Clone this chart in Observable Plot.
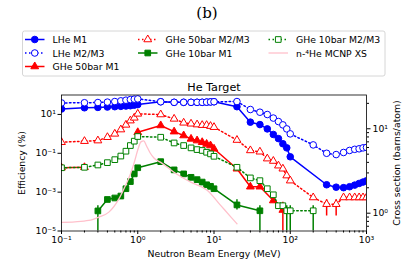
<!DOCTYPE html>
<html><head><meta charset="utf-8">
<script src="https://cdn.jsdelivr.net/npm/d3@7"></script>
<script src="https://cdn.jsdelivr.net/npm/@observablehq/plot@0.6"></script>
<style>
body{margin:0;background:#fff;}
#wrap{width:407px;height:271px;overflow:hidden;}
#wrap svg{display:block;}
</style>
</head><body><div id="wrap"></div>
<script>
// ---- Energies (MeV) ----
const E_low = [0.1,0.2,0.3,0.4,0.5,0.6,0.7,0.8,0.9,1];
const E_mid = [2,3,4,5,6,7,8,9,10];
const E_hi  = [20,30,40,50,60,70,80,90,100];
const E_top = [200,300,400,500,600,700,800,900,1000];

// ---- LHe M1 ----
const lheM1_E = [...E_low, ...E_mid, ...E_hi, 300,400,500,600,700,800,900,1000];
const lheM1_V = [19,22,23,24,25,26,27,28,30,32,
                 45,42,42,42,42,42,43,44,45,
                 25,4.0,3.0,1.8,0.93,0.57,0.31,0.19,0.066,
                 0.0024,0.0018,0.0017,0.0019,0.0023,0.0028,0.0033,0.0038];
// ---- LHe M2/M3 ----
const lheM2_E = [...E_low, ...E_mid, ...E_hi, ...E_top];
const lheM2_V = [39,40,41,43,46,50,54,58,61,63,
                 45,42,42,42,42,42,43,44,45,
                 46,17.9,13,9.9,6.5,4.3,2.9,1.8,1.0,
                 0.27,0.10,0.086,0.11,0.14,0.16,0.17,0.19,0.20];
// ---- GHe 50bar M1 ----
const g50M1_E = [0.1,0.2,0.3,1,2,3,4,5,6,7,8,9,10,20,30,40,60,80];
const g50M1_V = [0.018,0.019,null,1.2,2.7,1.3,0.82,0.55,0.45,0.37,0.30,0.25,0.17,0.016,0.0019,0.0019,0.00037,0.00012];
// ---- GHe 50bar M2/M3 ----
const g50M2_E = [...E_low, ...E_mid, ...E_hi, ...E_top];
const g50M2_V = [0.37,0.42,0.45,0.67,1.0,1.66,2.9,4.8,6.7,10.7,
                 9.9,5.9,3.7,3.3,3.0,2.8,2.8,2.5,2.2,
                 0.48,0.14,0.12,0.053,0.040,0.023,0.016,0.0071,0.0039,
                 0.00053,0.00024,0.00024,0.00053,0.00053,0.00053,0.00053,0.00053,0.00053];
// ---- GHe 10bar M1 ----
const g10M1_E = [0.3,0.4,0.5,0.6,0.7,0.8,0.9,1,2,3,4,5,6,7,8,9,10,20,40];
const g10M1_V = [0.000108,0.00042,0.0005,0.00063,0.0015,0.0035,0.0087,0.018,
                 0.037,0.014,0.0087,0.0058,0.0044,0.0033,0.0024,0.0020,0.0015,
                 0.00022,0.00011];
// ---- GHe 10bar M2/M3 ----
const g10M2_E = [...E_low, ...E_mid, ...E_hi, 200];
const g10M2_V = [0.018,0.019,0.025,0.033,0.047,0.072,0.128,0.25,0.42,0.73,
                 0.67,0.34,0.25,0.19,0.155,0.14,0.113,0.093,0.07,
                 0.019,0.0054,0.0039,0.0015,0.00073,0.0002,0.0002,0.00011,0.00011,
                 0.00011];
// ---- error bars: [energy, low, high] ----
const g10M1_err = [[0.3,1e-5,0.0002],[20,0.00012,0.0004],[40,1e-5,0.0002]];
const g10M2_err = [[90,1e-5,0.0002],[100,1e-5,0.0002],[200,1e-5,0.0002]];
const g50M2_err = [[300,0.00006,0.0004],[400,0.00006,0.0004]];
const g50M1_err = [[80,1e-5,0.0003]];
// ---- n-4He MCNP cross section (barns/atom), right axis ----
const xs_E = [0.1,0.15,0.228,0.309,0.418,0.566,0.69,0.8,0.9,1.0,1.1,1.2,1.3,1.45,1.63,2,2.98,4.96,8.2,12.3,16.7,20];
const xs_V = [0.78,0.79,0.82,0.9,1.03,1.48,2.13,2.9,4.0,5.6,7.0,7.2,6.3,5.2,4.5,4.0,3.06,2.33,1.86,1.23,0.9,0.75];

// ---- tick labels ----
const xTicks = [0.1,1,10,100,1000];
const yTicks = [1e-5,1e-3,1e-1,10];
const rTicks = [1,10];
const rMinor = [0.7,0.8,0.9,2,3,4,5,6,7,8,9,20];

const supMap = {"0":"⁰","1":"¹","2":"²","3":"³","4":"⁴","5":"⁵","6":"⁶","7":"⁷","8":"⁸","9":"⁹","-":"⁻"};
const fmt = v => "10" + String(Math.round(Math.log10(v))).split("").map(c => supMap[c]).join("");

// right-axis mapping onto left log scale
const R0 = -0.2109, R1 = 1.400;
const toLeft = xs => Math.pow(10, -5 + 7 * (Math.log10(xs) - R0) / (R1 - R0));

const rows = (E, V) => E.map((e, i) => ({E: e, v: V[i]}));
const errRows = arr => arr.map(([e, lo, hi]) => ({E: e, lo, hi}));

const BLUE = "#0000ff", RED = "#ff0000", GREEN = "#008000", PINK = "#ffc0cb";
const DOT = "1.5,2.5";
const xMinor = [];
for (let d = -1; d < 3; d++) for (let k = 2; k <= 9; k++) xMinor.push(k * Math.pow(10, d));

function series(E, V, color, dashed, symbol, filled, r, err) {
  const data = rows(E, V);
  const out = [
    Plot.line(data, {x: "E", y: "v", stroke: color, strokeWidth: 1.5, strokeDasharray: dashed ? DOT : null, clip: true})
  ];
  if (err) out.push(Plot.ruleX(errRows(err), {x: "E", y1: "lo", y2: "hi", stroke: color, strokeWidth: 1.5, clip: true}));
  out.push(Plot.dot(data.filter(d => d.v != null), {x: "E", y: "v", symbol, r, fill: filled ? color : "white", stroke: color, strokeWidth: 1, clip: true}));
  return out;
}

const chart = Plot.plot({
  width: 407, height: 191,
  marginLeft: 61, marginRight: 41, marginTop: 14.5, marginBottom: 40.5,
  style: {fontFamily: "DejaVu Sans, sans-serif", fontSize: "9.3px", background: "white", color: "black"},
  x: {type: "log", domain: [0.1, 1000]},
  y: {type: "log", domain: [1e-5, 100]},
  marks: [
    ...series(lheM1_E, lheM1_V, BLUE, false, "circle", true, 3.3),
    ...series(lheM2_E, lheM2_V, BLUE, true, "circle", false, 3.3),
    ...series(g50M1_E, g50M1_V, RED, false, "triangle", true, 2.9, g50M1_err),
    ...series(g50M2_E, g50M2_V, RED, true, "triangle", false, 2.9, g50M2_err),
    ...series(g10M1_E, g10M1_V, GREEN, false, "square", true, 3.2, g10M1_err),
    ...series(g10M2_E, g10M2_V, GREEN, true, "square", false, 3.2, g10M2_err),
    Plot.line(rows(xs_E, xs_V.map(toLeft)), {x: "E", y: "v", stroke: PINK, strokeWidth: 1.3, curve: "monotone-x", clip: true}),
    Plot.frame({stroke: "black", strokeWidth: 0.8}),
    Plot.axisX({ticks: xTicks, tickFormat: fmt, tickSize: 3.5, tickPadding: 2, label: null}),
    Plot.axisX({ticks: xMinor, tickFormat: () => "", tickSize: 2, label: null}),
    Plot.axisY({ticks: yTicks, tickFormat: fmt, tickSize: 3.5, tickPadding: 2, label: null}),
    Plot.axisY({anchor: "right", ticks: rTicks.map(toLeft), tickFormat: () => "", tickSize: 3.5, label: null}),
    Plot.axisY({anchor: "right", ticks: rMinor.map(toLeft), tickFormat: () => "", tickSize: 2, label: null}),
    Plot.text(rTicks, {frameAnchor: "right", y: d => toLeft(d), text: d => fmt(d), dx: 6, textAnchor: "start", lineAnchor: "middle", fontSize: 9.3, fill: "black"}),
    Plot.text(["Neutron Beam Energy (MeV)"], {frameAnchor: "bottom", dy: 23.5, lineAnchor: "middle", textAnchor: "middle", fontSize: 9.3}),
    Plot.text(["Efficiency (%)"], {frameAnchor: "left", dx: -39, rotate: -90, lineAnchor: "middle", textAnchor: "middle", fontSize: 9.3}),
    Plot.text(["Cross section (barns/atom)"], {frameAnchor: "right", dx: 31, rotate: -90, lineAnchor: "middle", textAnchor: "middle", fontSize: 9.3}),
    Plot.text(["He Target"], {frameAnchor: "top", dy: -7.5, lineAnchor: "middle", textAnchor: "middle", fontSize: 11.2})
  ]
});

// ---- header: panel label + legend ----
const legendItems = [
  {label: "LHe M1", color: BLUE, dashed: false, sym: d3.symbolCircle, filled: true, r: 3.3, col: 0, row: 0},
  {label: "LHe M2/M3", color: BLUE, dashed: true, sym: d3.symbolCircle, filled: false, r: 3.3, col: 0, row: 1},
  {label: "GHe 50bar M1", color: RED, dashed: false, sym: d3.symbolTriangle, filled: true, r: 2.9, col: 0, row: 2},
  {label: "GHe 50bar M2/M3", color: RED, dashed: true, sym: d3.symbolTriangle, filled: false, r: 2.9, col: 1, row: 0},
  {label: "GHe 10bar M1", color: GREEN, dashed: false, sym: d3.symbolSquare, filled: true, r: 3.2, col: 1, row: 1},
  {label: "GHe 10bar M2/M3", color: GREEN, dashed: true, sym: d3.symbolSquare, filled: false, r: 3.2, col: 2, row: 0},
  {label: "n-⁴He MCNP XS", color: PINK, dashed: false, sym: null, col: 2, row: 1}
];
const colX = [25, 138, 268.5];
const rowY = [39.5, 53, 66.5];

const head = d3.create("svg").attr("width", 407).attr("height", 80).style("display", "block")
  .style("font-family", "DejaVu Sans, sans-serif");
head.append("text").attr("x", 207).attr("y", 13).attr("text-anchor", "middle").attr("dominant-baseline", "central")
  .style("font-family", "DejaVu Serif, serif").style("font-size", "15px").text("(b)");
head.append("rect").attr("x", 22.5).attr("y", 31).attr("width", 362.5).attr("height", 45).attr("rx", 2)
  .attr("fill", "white").attr("stroke", "#cccccc").attr("stroke-width", 0.8);
for (const it of legendItems) {
  const x0 = colX[it.col], y0 = rowY[it.row];
  head.append("line").attr("x1", x0).attr("x2", x0 + 19.5).attr("y1", y0).attr("y2", y0)
    .attr("stroke", it.color).attr("stroke-width", it.sym ? 1.5 : 1.3)
    .attr("stroke-dasharray", it.dashed ? DOT : null);
  if (it.sym) {
    head.append("path").attr("d", d3.symbol().type(it.sym).size(Math.PI * it.r * it.r)())
      .attr("transform", `translate(${x0 + 9.75},${y0})`)
      .attr("fill", it.filled ? it.color : "white").attr("stroke", it.color).attr("stroke-width", 1);
  }
  head.append("text").attr("x", x0 + 27.5).attr("y", y0).attr("dominant-baseline", "central")
    .style("font-size", "9.3px").text(it.label);
}

const wrap = document.getElementById("wrap");
wrap.appendChild(head.node());
wrap.appendChild(chart);
</script>
</body></html>
